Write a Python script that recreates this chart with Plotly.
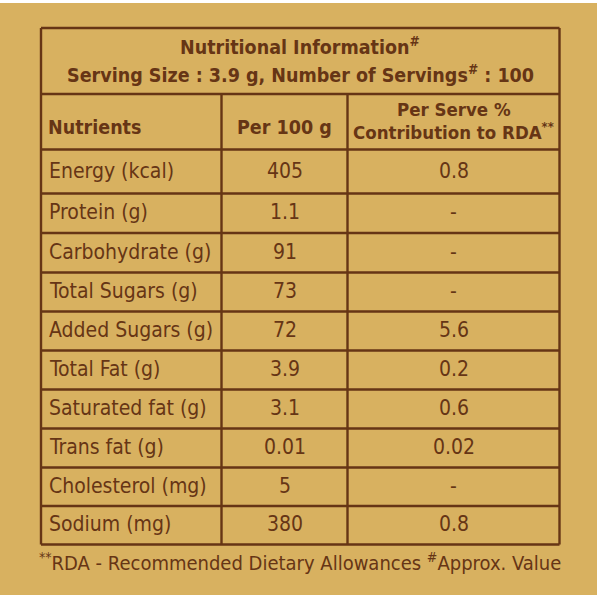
import plotly.graph_objects as go

# ---- data ----
nutrients = ["Energy (kcal)", "Protein (g)", "Carbohydrate (g)", "Total Sugars (g)",
             "Added Sugars (g)", "Total Fat (g)", "Saturated fat (g)", "Trans fat (g)",
             "Cholesterol (mg)", "Sodium (mg)"]
per_100g = ["405", "1.1", "91", "73", "72", "3.9", "3.1", "0.01", "5", "380"]
per_serve_rda = ["0.8", "-", "-", "-", "5.6", "0.2", "0.6", "0.02", "-", "0.8"]
col_headers = ["Nutrients", "Per 100 g", "Per Serve %", "Contribution to RDA<sup>**</sup>"]
title_lines = ["Nutritional Information<sup>#</sup>",
               "Serving Size : 3.9 g, Number of Servings<sup>#</sup> : 100"]
footnote = "<sup>**</sup>RDA - Recommended Dietary Allowances <sup>#</sup>Approx. Value"

# ---- style / layout ----
BG = "#D8B160"
BROWN = "#663515"
FONT = "DejaVu Sans Condensed, Liberation Sans Narrow, sans-serif"
LW = 2.4

x_left, x_c1, x_c2, x_right = 41, 221.5, 347.5, 559.5
y_top, y_title, y_head = 28, 94, 149.5
row_lines = [149.5, 193.5, 233, 272.5, 311.5, 350.5, 389.5, 428.5, 467.5, 506, 544.5]

fig = go.Figure()
fig.add_trace(go.Scatter(x=[0, 600], y=[0, 600], mode="markers",
                         marker=dict(opacity=0), hoverinfo="skip", showlegend=False))

shapes = []
shapes.append(dict(type="rect", xref="x", yref="y", x0=0, x1=597, y0=3, y1=595,
                   fillcolor=BG, line=dict(width=0), layer="below"))
line = dict(color=BROWN, width=LW)
for y in [y_top, y_title] + row_lines:
    shapes.append(dict(type="line", xref="x", yref="y", x0=x_left, x1=x_right, y0=y, y1=y, line=line))
for x in [x_left, x_right]:
    shapes.append(dict(type="line", xref="x", yref="y", x0=x, x1=x, y0=y_top, y1=row_lines[-1], line=line))
for x in [x_c1, x_c2]:
    shapes.append(dict(type="line", xref="x", yref="y", x0=x, x1=x, y0=y_title, y1=row_lines[-1], line=line))

ann = []
def add(text, x, y, size, bold=False, xanchor="center"):
    ann.append(dict(text=f"<b>{text}</b>" if bold else text, x=x, y=y, xref="x", yref="y",
                    showarrow=False, xanchor=xanchor, yanchor="middle",
                    font=dict(family=FONT, size=size, color=BROWN)))

# title
add(title_lines[0], 300, 46, 19.5, bold=True)
add(title_lines[1], 300, 74, 19.5, bold=True)
# headers
add(col_headers[0], 46, 127, 19.5, bold=True, xanchor="left")
add(col_headers[1], (x_c1 + x_c2) / 2, 127, 19.5, bold=True)
add(col_headers[2], (x_c2 + x_right) / 2, 109, 18.5, bold=True)
add(col_headers[3], (x_c2 + x_right) / 2, 131, 18.5, bold=True)

# rows
for i, (n, a, b) in enumerate(zip(nutrients, per_100g, per_serve_rda)):
    yc = (row_lines[i] + row_lines[i + 1]) / 2 - 1
    add(n, 47, yc, 21, xanchor="left")
    add(a, (x_c1 + x_c2) / 2, yc, 21)
    add(b, (x_c2 + x_right) / 2, yc, 21)

add(footnote, 300, 562, 20)

fig.update_layout(
    width=600, height=600, margin=dict(l=0, r=0, t=0, b=0),
    paper_bgcolor="white", plot_bgcolor="white",
    xaxis=dict(range=[0, 600], visible=False, fixedrange=True),
    yaxis=dict(range=[600, 0], visible=False, fixedrange=True),
    shapes=shapes, annotations=ann, showlegend=False,
)
fig.write_html("out.html", config={"displayModeBar": False},
               post_script="document.body.style.margin='0px';")
